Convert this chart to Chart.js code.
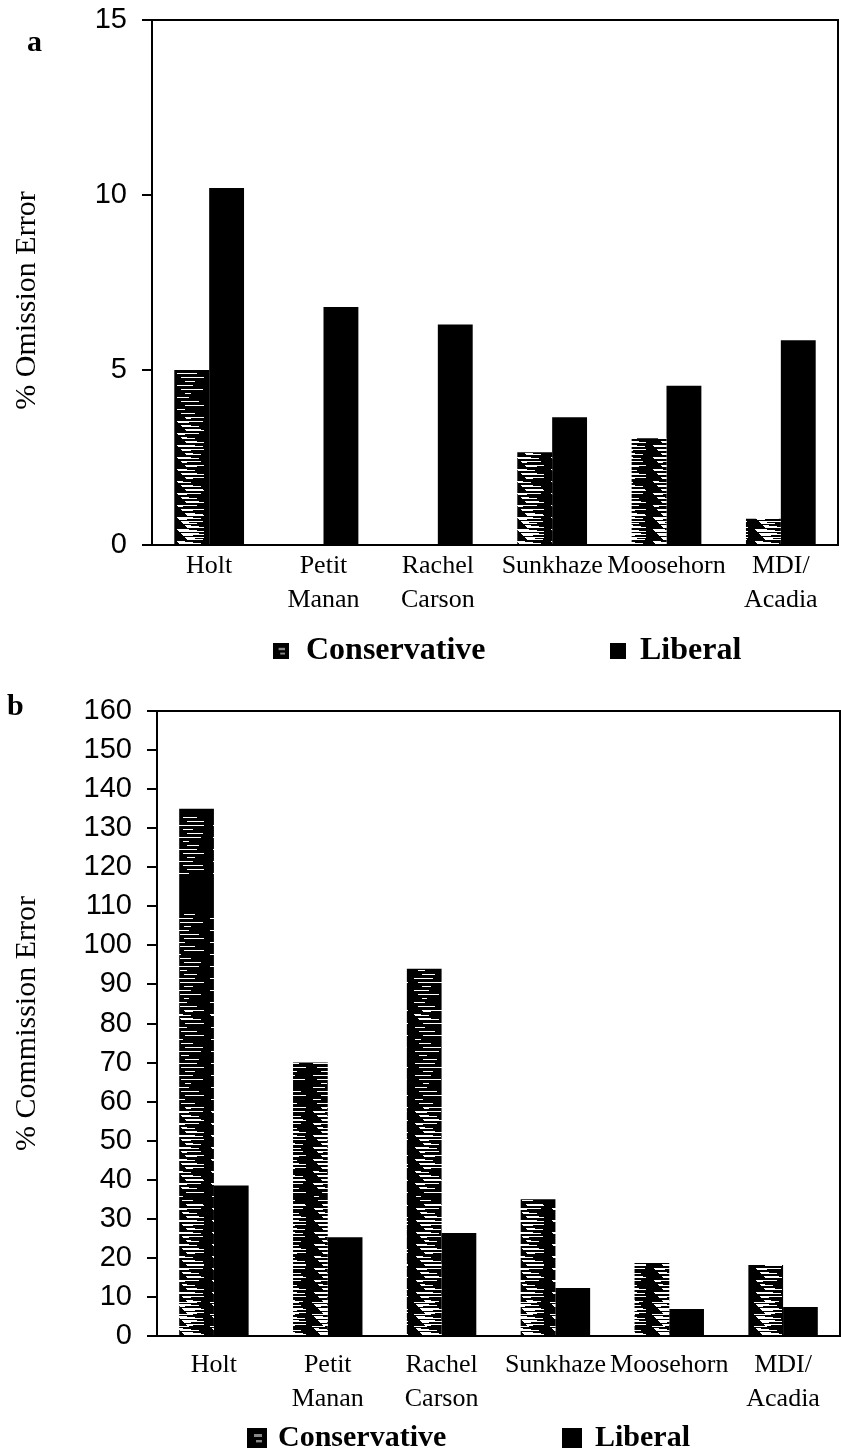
<!doctype html>
<html>
<head>
	<title>Omission / Commission Error</title>
	<meta charset="UTF-8">
	<script src="https://cdn.jsdelivr.net/npm/chart.js@4.4.0/dist/chart.umd.min.js"></script>
	<style>
		body { margin: 0; background: #fff; }
		#page { position: relative; width: 841px; height: 1452px; }
		canvas { position: absolute; left: 0; }
		.panel { position: absolute; font: bold 30px 'Liberation Serif'; line-height: 30px; color: #000; }
	</style>
</head>
<body>
<div id="page">
	<canvas id="chart-a" width="841" height="690" style="top:0"></canvas>
	<canvas id="chart-b" width="841" height="762" style="top:690px"></canvas>
	<div class="panel" style="left:27px;top:26px">a</div>
	<div class="panel" style="left:7px;top:690px">b</div>
</div>
<script>
	// sites along the x axis (multi-line labels)
	var sites = [['Holt'], ['Petit', 'Manan'], ['Rachel', 'Carson'], ['Sunkhaze'], ['Moosehorn'], ['MDI/', 'Acadia']];
	var seriesNames = ['Conservative', 'Liberal'];

	// panel a : % omission error
	var omissionConservative = [5.0, 0, 0, 2.65, 3.05, 0.75];
	var omissionLiberal = [10.2, 6.8, 6.3, 3.65, 4.55, 5.85];
	var omissionTicks = [0, 5, 10, 15];

	// panel b : % commission error
	var commissionConservative = [135, 70, 94, 35, 18.7, 18.2];
	var commissionLiberal = [38.5, 25.3, 26.4, 12.3, 6.9, 7.4];
	var commissionTicks = [0, 10, 20, 30, 40, 50, 60, 70, 80, 90, 100, 110, 120, 130, 140, 150, 160];

	Chart.defaults.font.family = 'Liberation Serif';
	Chart.defaults.color = '#000';

	// black fill with broken white horizontal streaks, denser lower down
	function streakPattern(ctx, h) {
		var c = document.createElement('canvas');
		c.width = 34;
		c.height = h;
		var g = c.getContext('2d');
		g.fillStyle = '#000';
		g.fillRect(0, 0, 34, h);
		g.fillStyle = '#fff';
		for (var y = 0; y < h; y++) {
			var f = y / h;
			var r = ((y * 73 + 41) % 97) / 97;
			if (r < 0.06 + 0.75 * Math.pow(f, 1.5)) {
				var x0 = 6 + (y * 13) % 12;
				var len = 5 + (y * 29) % 22;
				g.fillRect(x0, y, Math.min(len, 34 - x0), 1);
			}
		}
		return ctx.createPattern(c, 'repeat');
	}

	// top + right edges of the plot box, and the rotated y title
	var frame = {
		id: 'frame',
		afterDatasetsDraw: function (chart, args, opts) {
			var a = chart.chartArea, ctx = chart.ctx;
			ctx.save();
			ctx.strokeStyle = '#000';
			ctx.lineWidth = 2;
			ctx.beginPath();
			ctx.moveTo(a.left, a.top);
			ctx.lineTo(a.right, a.top);
			ctx.lineTo(a.right, a.bottom);
			ctx.moveTo(a.left - 9, a.bottom);
			ctx.lineTo(a.left, a.bottom);
			ctx.stroke();

			ctx.translate(opts.titleX, (a.top + a.bottom) / 2 + opts.titleShift);
			ctx.rotate(-Math.PI / 2);
			ctx.font = '30px Liberation Serif';
			ctx.fillStyle = '#000';
			ctx.textAlign = 'center';
			ctx.textBaseline = 'middle';
			ctx.fillText(opts.title, 0, 0);
			ctx.restore();
		}
	};

	var boxLegend = {
		id: 'boxLegend',
		afterDraw: function (chart, args, opts) {
			var ctx = chart.ctx;
			ctx.save();
			ctx.font = opts.font;
			ctx.textBaseline = 'middle';
			chart.data.datasets.forEach(function (ds, i) {
				var x = opts.x[i], b = opts.box, top = opts.y - b / 2;
				ctx.fillStyle = '#000';
				ctx.fillRect(x, top, b, b);
				if (i === 0) {
					// the hatched key shows a little grey in the middle
					ctx.fillStyle = '#888';
					ctx.fillRect(x + b * 0.35, top + b * 0.3, b * 0.4, b * 0.15);
					ctx.fillRect(x + b * 0.45, top + b * 0.6, b * 0.3, b * 0.12);
				}
				ctx.fillStyle = '#000';
				ctx.fillText(ds.label, opts.textX[i], opts.y);
			});
			ctx.restore();
		}
	};

	function makeChart(id, cons, lib, ticks, title, o) {
		var ctx = document.getElementById(id).getContext('2d');
		return new Chart(ctx, {
			type: 'bar',
			data: {
				labels: sites,
				datasets: [
					{ label: seriesNames[0], data: cons, backgroundColor: streakPattern(ctx, o.h) },
					{ label: seriesNames[1], data: lib, backgroundColor: '#000' }
				]
			},
			options: {
				responsive: false,
				animation: false,
				devicePixelRatio: 1,
				layout: { padding: { top: o.top, right: o.right, bottom: o.bottom, left: 0 } },
				datasets: { bar: { barPercentage: 1, categoryPercentage: 0.61 } },
				plugins: {
					legend: { display: false },
					tooltip: { enabled: false },
					boxLegend: o.legend,
					frame: { title: title, titleX: 27, titleShift: o.titleShift }
				},
				scales: {
					x: {
						grid: { display: false },
						border: { display: true, color: '#000', width: 2 },
						ticks: { padding: o.xPad, maxRotation: 0, autoSkip: false, font: { size: 26, lineHeight: 1.3 } },
						afterFit: function (s) { s.height = o.xHeight; }
					},
					y: {
						min: ticks[0],
						max: ticks[ticks.length - 1],
						afterBuildTicks: function (s) { s.ticks = ticks.map(function (v) { return { value: v }; }); },
						grid: { drawOnChartArea: false, color: '#000', lineWidth: 2, tickLength: 10 },
						border: { color: '#000', width: 2 },
						ticks: { padding: 15, autoSkip: false, font: { family: 'Liberation Sans', size: 29 } },
						afterFit: function (s) {
							s.width = o.yWidth;
							s.paddingTop = 0;
							s.paddingBottom = 0;
						}
					}
				}
			},
			plugins: [frame, boxLegend]
		});
	}

	makeChart('chart-a', omissionConservative, omissionLiberal, omissionTicks, '% Omission Error', {
		h: 690, top: 20, right: 3, bottom: 70, xHeight: 75, yWidth: 152, xPad: -4, titleShift: 18,
		legend: { font: 'bold 32px Liberation Serif', y: 651, box: 16, x: [273, 610], textX: [306, 640] }
	});

	makeChart('chart-b', commissionConservative, commissionLiberal, commissionTicks, '% Commission Error', {
		h: 762, top: 21, right: 1, bottom: 36, xHeight: 80, yWidth: 157, xPad: 4, titleShift: 0,
		legend: { font: 'bold 30px Liberation Serif', y: 1438 - 690, box: 20, x: [247, 562], textX: [278, 595] }
	});
</script>
</body>
</html>
